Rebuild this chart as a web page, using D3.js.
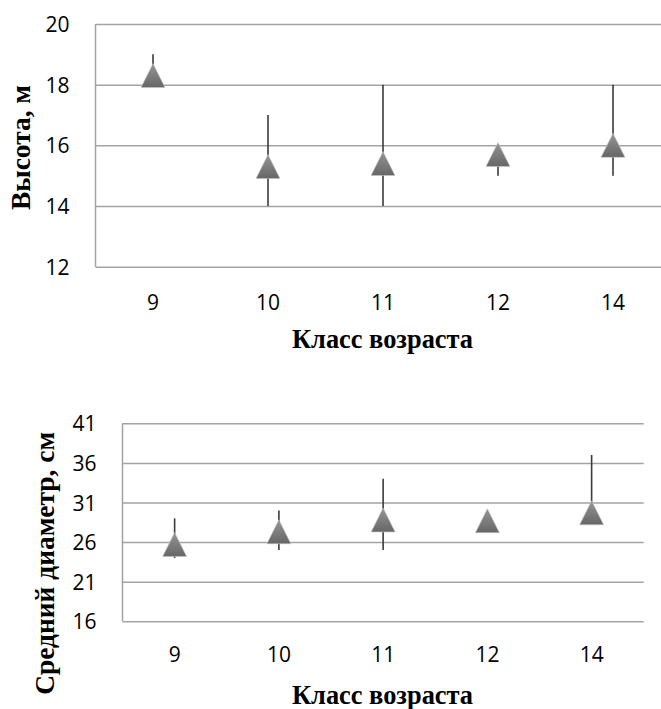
<!DOCTYPE html>
<html>
<head>
<meta charset="utf-8">
<script src="https://cdn.jsdelivr.net/npm/d3@7"></script>
<style>
  html, body { margin: 0; padding: 0; background: #fff; }
  svg { display: block; }
</style>
</head>
<body>
<svg id="chart" width="661" height="709"></svg>
<script>
// ---- data ----
const categories = ["9", "10", "11", "12", "14"];

const heightMean = [18.3, 15.3, 15.4, 15.7, 16.0];
const heightLow  = [18, 14, 14, 15, 15];
const heightHigh = [19, 17, 18, 16, 18];
const heightTicks = [12, 14, 16, 18, 20];

const diamMean = [25.7, 27.3, 28.8, 28.7, 29.7];
const diamLow  = [24, 25, 25, 28, 29];
const diamHigh = [29, 30, 34, 29, 37];
const diamTicks = [16, 21, 26, 31, 36, 41];

const xTitle = "Класс возраста";
const yTitleTop = "Высота, м";
const yTitleBottom = "Средний диаметр, см";

// ---- drawing ----
const svg = d3.select("#chart");
const defs = svg.append("defs");
const grad = defs.append("linearGradient")
  .attr("id", "triGrad").attr("x1", 0).attr("y1", 0).attr("x2", 0).attr("y2", 1);
grad.append("stop").attr("offset", "0%").attr("stop-color", "#959595");
grad.append("stop").attr("offset", "100%").attr("stop-color", "#666666");

const tickFont = "'Open Sans', sans-serif";
const titleFont = "'Liberation Serif', 'Times New Roman', serif";

function panel(cfg) {
  const g = svg.append("g");
  const x = d3.scaleBand().domain(categories).range([cfg.left, cfg.right]).padding(0);
  const y = d3.scaleLinear().domain([cfg.ticks[0], cfg.ticks[cfg.ticks.length - 1]])
    .range([cfg.bottom, cfg.top]);

  // gridlines + y labels
  const yAxis = d3.axisLeft(y).tickValues(cfg.ticks)
    .tickSizeInner(-(cfg.right - cfg.left)).tickSizeOuter(0).tickPadding(26)
    .tickFormat(d3.format("d"));
  const ya = g.append("g").attr("transform", `translate(${cfg.left},0)`).call(yAxis);
  ya.select(".domain").remove();
  ya.selectAll(".tick line").attr("stroke", "#a3a3a3").attr("stroke-width", 1.5);
  ya.selectAll(".tick text")
    .attr("font-family", tickFont).attr("font-size", 21).attr("fill", "#000")
    .attr("dy", "0.36em");

  // left axis line
  g.append("line")
    .attr("x1", cfg.left).attr("x2", cfg.left)
    .attr("y1", cfg.top).attr("y2", cfg.bottom)
    .attr("stroke", "#a3a3a3").attr("stroke-width", 1.5);

  // x labels
  const xAxis = d3.axisBottom(x).tickSize(0).tickPadding(cfg.xPad);
  const xa = g.append("g").attr("transform", `translate(0,${cfg.bottom})`).call(xAxis);
  xa.select(".domain").remove();
  xa.selectAll(".tick text")
    .attr("font-family", tickFont).attr("font-size", 21).attr("fill", "#000");

  // error bars
  g.append("g").selectAll("line").data(categories).join("line")
    .attr("x1", d => x(d) + x.bandwidth() / 2)
    .attr("x2", d => x(d) + x.bandwidth() / 2)
    .attr("y1", (d, i) => y(cfg.low[i]))
    .attr("y2", (d, i) => y(cfg.high[i]))
    .attr("stroke", "#3a3a3a").attr("stroke-width", 1.6);

  // triangle markers
  g.append("g").selectAll("path").data(categories).join("path")
    .attr("d", "M0,-12L12,12L-12,12Z")
    .attr("transform", (d, i) => `translate(${x(d) + x.bandwidth() / 2},${y(cfg.mean[i])})`)
    .attr("fill", "url(#triGrad)")
    .attr("stroke", "#c8c8c8").attr("stroke-width", 0.6);

  // x title
  g.append("text")
    .attr("x", 382.5).attr("y", cfg.xTitleY)
    .attr("text-anchor", "middle")
    .attr("font-family", titleFont).attr("font-weight", "bold")
    .attr("font-size", 28).attr("fill", "#000")
    .attr("textLength", 181).attr("lengthAdjust", "spacingAndGlyphs")
    .text(xTitle);

  // y title
  g.append("text")
    .attr("transform", `translate(${cfg.yTitleX},${cfg.yTitleY}) rotate(-90)`)
    .attr("text-anchor", "middle")
    .attr("font-family", titleFont).attr("font-weight", "bold")
    .attr("font-size", 28).attr("fill", "#000")
    .attr("textLength", cfg.yTitleLen).attr("lengthAdjust", "spacingAndGlyphs")
    .text(cfg.yTitle);
}

panel({
  left: 95.5, right: 670.5, top: 24, bottom: 266.7,
  ticks: heightTicks, mean: heightMean, low: heightLow, high: heightHigh,
  xPad: 28, xTitleY: 348.3,
  yTitle: yTitleTop, yTitleX: 30, yTitleY: 147.5, yTitleLen: 125
});

panel({
  left: 122.5, right: 643.75, top: 423.3, bottom: 621.3,
  ticks: diamTicks, mean: diamMean, low: diamLow, high: diamHigh,
  xPad: 26, xTitleY: 704,
  yTitle: yTitleBottom, yTitleX: 54, yTitleY: 563.3, yTitleLen: 263
});
</script>
</body>
</html>
